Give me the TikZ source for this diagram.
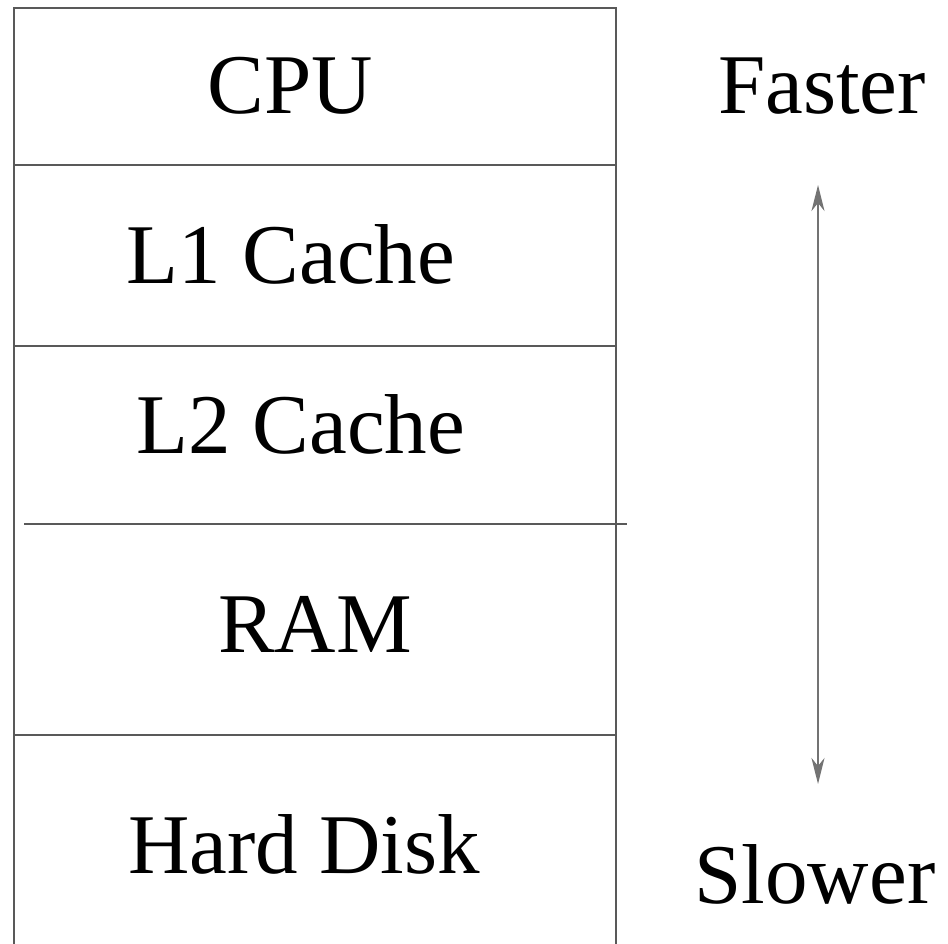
\documentclass[tikz,border=0pt]{standalone}
\usepackage{fontspec}
\setmainfont{Liberation Serif}
\usetikzlibrary{arrows.meta}
\definecolor{boxline}{gray}{0.35}
\definecolor{arrline}{gray}{0.45}
\tikzset{
  frameline/.style={draw=boxline, line width=2pt},
  label/.style={anchor=base, inner sep=0pt, font=\fontsize{85}{90}\selectfont},
  speedarrow/.style={draw=arrline, line width=2pt, {Stealth[length=26pt,width=13pt,inset=8pt]}-{Stealth[length=26pt,width=13pt,inset=8pt]}}
}
\begin{document}
\begin{tikzpicture}[x=1pt,y=-1pt]
\useasboundingbox (0,0) rectangle (948,943);
% frame
\draw[frameline] (14,945) -- (14,8) -- (616,8) -- (616,945);
\draw[frameline] (14,165) -- (616,165);
\draw[frameline] (14,346) -- (616,346);
\draw[frameline] (24,524) -- (627,524);
\draw[frameline] (14,735) -- (616,735);
% labels
\node[label] (cpu) at (290,113) {CPU};
\node[label] (l1) at (291,283) {L1 Cache};
\node[label] (l2) at (301,453) {L2 Cache};
\node[label] (ram) at (315,652) {RAM};
\node[label] (hd) at (304,873) {Hard Disk};
\node[label] (fast) at (822,113) {Faster};
\node[label] (slow) at (815,903) {Slower};
% arrow
\coordinate (atop) at (818,185);
\coordinate (abot) at (818,784);
\draw[speedarrow] (atop) -- (abot);
\end{tikzpicture}
\end{document}
